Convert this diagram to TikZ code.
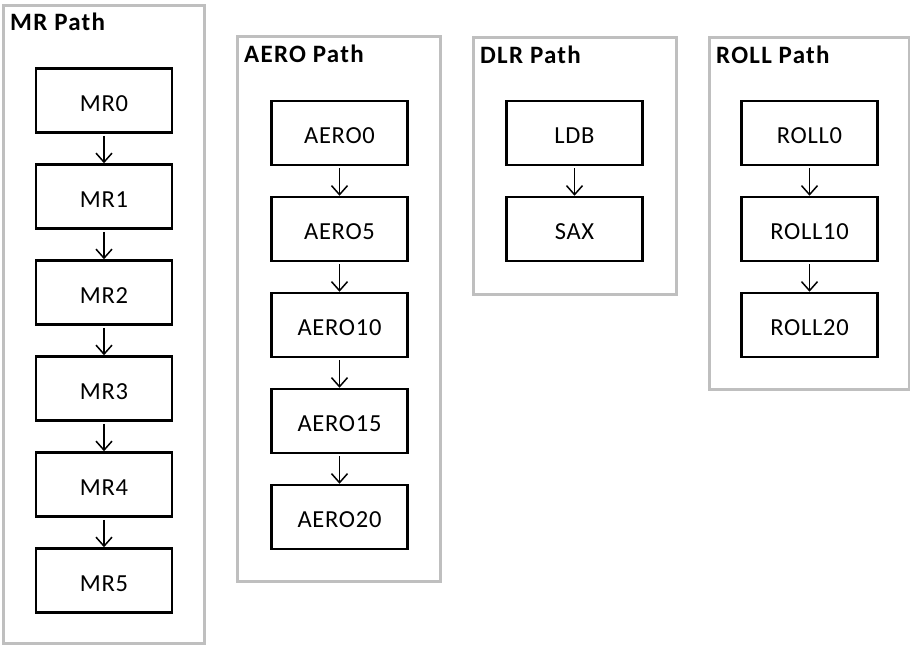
\documentclass[tikz,border=0pt]{standalone}
\usepackage{fontspec}
\setmainfont{Carlito}
\newfontfamily\boxfont[LetterSpace=3]{Carlito}
\newfontfamily\titlefont[LetterSpace=5]{Carlito}
\usetikzlibrary{arrows.meta}
\tikzset{
  container/.style={draw=black!25, line width=3pt, rectangle, inner sep=0pt},
  stepbox/.style={draw=black, line width=2.5pt, rectangle, minimum width=136pt, minimum height=64pt, inner sep=0pt, text height=21pt, text depth=0pt, font=\boxfont\fontsize{24.5}{28}\selectfont},
  ptitle/.style={anchor=base west, inner sep=0pt, font=\titlefont\fontsize{25}{29}\selectfont\bfseries},
  link/.style={line width=1.5pt, -{Straight Barb[length=9pt,width=16pt,line width=1.5pt]}, shorten <=2pt}
}
\begin{document}
\begin{tikzpicture}[x=1pt,y=-1pt]
\useasboundingbox (0,0) rectangle (910,646);
% containers
\node[container, minimum width=201pt, minimum height=638pt] (mrC) at (103.5,324) {};
\node[container, minimum width=203pt, minimum height=545pt] (aeroC) at (338.5,308.5) {};
\node[container, minimum width=203pt, minimum height=257pt] (dlrC) at (574.5,165.5) {};
\node[container, minimum width=200pt, minimum height=352pt] (rollC) at (809,213) {};
% titles
\node[ptitle] (mrT) at (10,30) {MR Path};
\node[ptitle] (aeroT) at (244,62) {AERO Path};
\node[ptitle] (dlrT) at (480,63) {DLR Path};
\node[ptitle] (rollT) at (716,63) {ROLL Path};
% MR
\foreach \i in {0,...,5} {
  \node[stepbox] (mr\i) at (104,{100.5+96*\i}) {MR\i};
}
\foreach \i/\j in {0/1,1/2,2/3,3/4,4/5} {
  \draw[link] (mr\i.south) -- (mr\j.north);
}
% AERO
\foreach \k/\v in {0/0,1/5,2/10,3/15,4/20} {
  \node[stepbox] (aero\k) at (339.5,{133+96*\k}) {AERO\v};
}
\foreach \i/\j in {0/1,1/2,2/3,3/4} {
  \draw[link] (aero\i.south) -- (aero\j.north);
}
% DLR
\node[stepbox] (ldb) at (574.5,133) {LDB};
\node[stepbox] (sax) at (574.5,229) {SAX};
\draw[link] (ldb.south) -- (sax.north);
% ROLL
\node[stepbox] (roll0) at (809.5,133) {ROLL0};
\node[stepbox] (roll1) at (809.5,229) {ROLL10};
\node[stepbox] (roll2) at (809.5,325) {ROLL20};
\draw[link] (roll0.south) -- (roll1.north);
\draw[link] (roll1.south) -- (roll2.north);
\end{tikzpicture}
\end{document}
